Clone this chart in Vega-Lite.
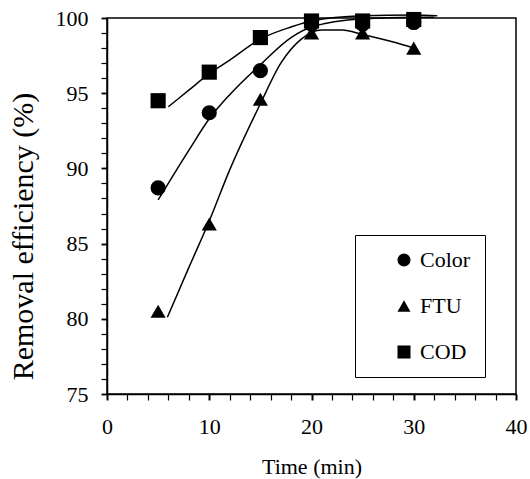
{
  "$schema": "https://vega.github.io/schema/vega-lite/v6.json",
  "width": 409,
  "height": 376,
  "autosize": "none",
  "padding": {"left": 107, "top": 18, "right": 14, "bottom": 85},
  "background": "white",
  "config": {
    "view": {"stroke": "black", "strokeWidth": 1.5},
    "font": "Liberation Serif",
    "axis": {
      "grid": false,
      "domainColor": "black",
      "domainWidth": 1.5,
      "tickColor": "black",
      "labelColor": "black",
      "titleColor": "black",
      "labelFont": "Liberation Serif",
      "titleFont": "Liberation Serif",
      "labelFontSize": 22,
      "titleFontWeight": "normal",
      "tickSize": 6
    },
    "legend": {"labelFont": "Liberation Serif"}
  },
  "datasets": {
    "points": [
      {"series": "Color", "time": 5, "eff": 88.7},
      {"series": "Color", "time": 10, "eff": 93.7},
      {"series": "Color", "time": 15, "eff": 96.5},
      {"series": "Color", "time": 20, "eff": 99.6},
      {"series": "Color", "time": 25, "eff": 99.6},
      {"series": "Color", "time": 30, "eff": 99.7},
      {"series": "FTU", "time": 5, "eff": 80.5},
      {"series": "FTU", "time": 10, "eff": 86.3},
      {"series": "FTU", "time": 15, "eff": 94.6},
      {"series": "FTU", "time": 20, "eff": 99.0},
      {"series": "FTU", "time": 25, "eff": 99.0},
      {"series": "FTU", "time": 30, "eff": 98.0},
      {"series": "COD", "time": 5, "eff": 94.5},
      {"series": "COD", "time": 10, "eff": 96.4},
      {"series": "COD", "time": 15, "eff": 98.7},
      {"series": "COD", "time": 20, "eff": 99.8},
      {"series": "COD", "time": 25, "eff": 99.8},
      {"series": "COD", "time": 30, "eff": 99.9}
    ],
    "curves": [
      {"series": "COD", "time": 6, "eff": 94.1},
      {"series": "COD", "time": 8, "eff": 95.2},
      {"series": "COD", "time": 10, "eff": 96.3},
      {"series": "COD", "time": 12, "eff": 97.2},
      {"series": "COD", "time": 15, "eff": 98.6},
      {"series": "COD", "time": 18, "eff": 99.4},
      {"series": "COD", "time": 20, "eff": 99.8},
      {"series": "COD", "time": 25, "eff": 100.15},
      {"series": "COD", "time": 30, "eff": 100.2},
      {"series": "COD", "time": 32.3, "eff": 100.15},
      {"series": "Color", "time": 5, "eff": 87.9},
      {"series": "Color", "time": 8, "eff": 91.2},
      {"series": "Color", "time": 10, "eff": 93.3},
      {"series": "Color", "time": 12, "eff": 94.9},
      {"series": "Color", "time": 15, "eff": 96.9},
      {"series": "Color", "time": 18, "eff": 98.7},
      {"series": "Color", "time": 20, "eff": 99.4},
      {"series": "Color", "time": 25, "eff": 99.95},
      {"series": "Color", "time": 30, "eff": 100.05},
      {"series": "Color", "time": 32, "eff": 100.05},
      {"series": "FTU", "time": 5.9, "eff": 80.1},
      {"series": "FTU", "time": 8, "eff": 83.4},
      {"series": "FTU", "time": 10, "eff": 86.5},
      {"series": "FTU", "time": 12, "eff": 89.9},
      {"series": "FTU", "time": 15, "eff": 94.3},
      {"series": "FTU", "time": 17, "eff": 97.0},
      {"series": "FTU", "time": 19, "eff": 98.6},
      {"series": "FTU", "time": 21, "eff": 99.2},
      {"series": "FTU", "time": 23, "eff": 99.2},
      {"series": "FTU", "time": 25, "eff": 98.9},
      {"series": "FTU", "time": 28, "eff": 98.4},
      {"series": "FTU", "time": 30, "eff": 98.0}
    ]
  },
  "encoding": {
    "x": {
      "field": "time",
      "type": "quantitative",
      "scale": {"domain": [0, 40], "nice": false, "zero": false},
      "axis": {
        "title": "Time (min)",
        "titleFont": "Liberation Serif",
        "titleFontSize": 22,
        "titleFontWeight": "normal",
        "titleBaseline": "alphabetic",
        "titleY": 79,
        "values": [0, 2, 4, 6, 8, 10, 12, 14, 16, 18, 20, 22, 24, 26, 28, 30, 32, 34, 36, 38, 40],
        "labelExpr": "datum.value % 10 === 0 ? datum.label : ''",
        "labelBaseline": "alphabetic",
        "labelPadding": 33,
        "labelFlush": false,
        "labelOverlap": false,
        "tickWidth": {"condition": {"test": "datum.value % 10 === 0", "value": 2}, "value": 1.2}
      }
    },
    "y": {
      "field": "eff",
      "type": "quantitative",
      "scale": {"domain": [75, 100], "nice": false, "zero": false},
      "axis": {
        "title": "Removal efficiency (%)",
        "titleFont": "Liberation Serif",
        "titleFontSize": 30,
        "titleFontWeight": "normal",
        "titleAngle": -90,
        "titleAlign": "center",
        "titleBaseline": "alphabetic",
        "titleX": -75,
        "titleY": 218,
        "values": [75, 76, 77, 78, 79, 80, 81, 82, 83, 84, 85, 86, 87, 88, 89, 90, 91, 92, 93, 94, 95, 96, 97, 98, 99, 100],
        "labelExpr": "datum.value % 5 === 0 ? datum.label : ''",
        "labelPadding": 13,
        "labelOverlap": false,
        "labelFlush": false,
        "tickWidth": {"condition": {"test": "datum.value % 5 === 0", "value": 1.8}, "value": 1.2}
      }
    }
  },
  "layer": [
    {
      "data": {"name": "curves"},
      "mark": {"type": "line", "color": "black", "strokeWidth": 1.5, "interpolate": "monotone", "clip": false},
      "encoding": {"detail": {"field": "series"}}
    },
    {
      "data": {"name": "points"},
      "mark": {"type": "point", "filled": true, "color": "black", "opacity": 1, "size": 230},
      "encoding": {
        "shape": {
          "field": "series",
          "type": "nominal",
          "scale": {"domain": ["Color", "FTU", "COD"], "range": ["circle", "triangle-up", "square"]},
          "legend": {
            "title": null,
            "orient": "none",
            "legendX": 248,
            "legendY": 217,
            "strokeColor": "black",
            "fillColor": "white",
            "padding": 14,
            "symbolOffset": 24,
            "labelOffset": 5,
            "rowPadding": 24,
            "symbolSize": 170,
            "symbolFillColor": "black",
            "symbolStrokeColor": "black",
            "labelFont": "Liberation Serif",
            "labelFontSize": 22,
            "labelColor": "black"
          }
        }
      }
    }
  ]
}
